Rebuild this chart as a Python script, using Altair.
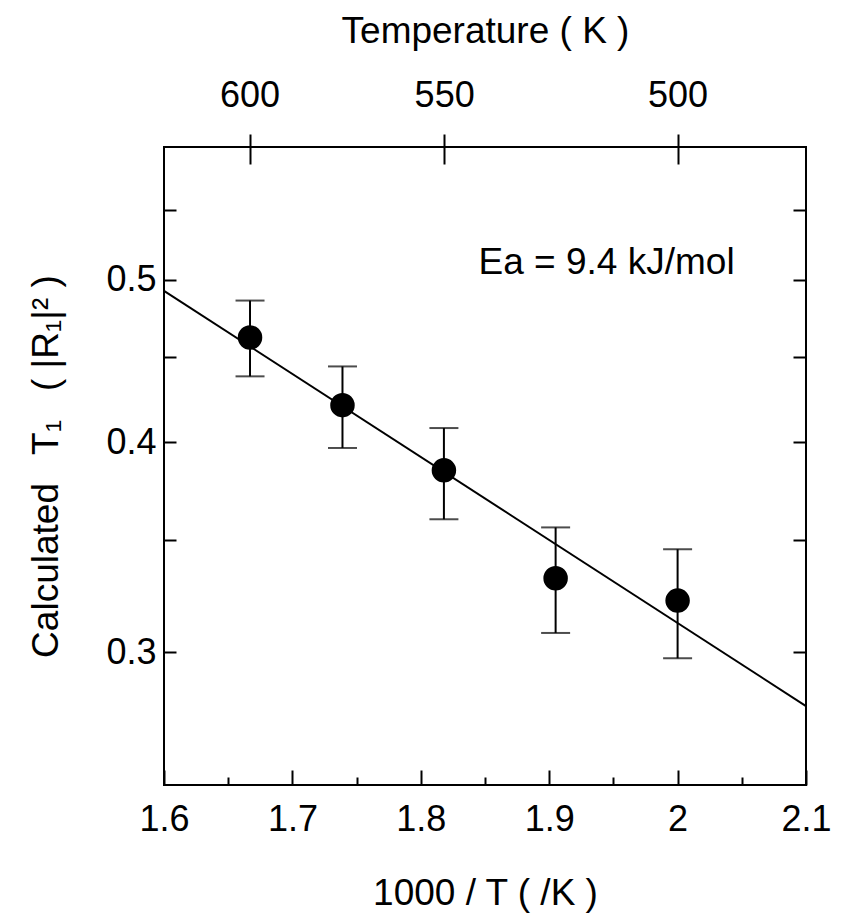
import altair as alt
import pandas as pd

# ---- data ----
inv_T = [1.667, 1.739, 1.818, 1.905, 2.0]          # 1000/T (/K)
t1 = [0.462, 0.421, 0.385, 0.332, 0.322]            # calculated T1
err_hi = [0.486, 0.444, 0.408, 0.356, 0.3455]
err_lo = [0.438, 0.397, 0.360, 0.308, 0.2975]
fit_x = [1.6, 2.1]
fit_y = [0.4925, 0.2786]
bottom_major = [1.6, 1.7, 1.8, 1.9, 2.0, 2.1]
bottom_minor = [1.65, 1.75, 1.85, 1.95, 2.05]
temps = [600, 550, 500]
y_labels = [0.3, 0.4, 0.5]
y_ticks = [0.3, 0.35, 0.4, 0.45, 0.5, 0.55]
ann_text = ["Ea = 9.4 kJ/mol"]
ann_x = [1.845]
ann_y = [0.504]

FONT = "Liberation Sans"
LABEL_FS = 36
TITLE_FS = 37
pts = pd.DataFrame({"x": inv_T, "y": t1, "hi": err_hi, "lo": err_lo})
fit = pd.DataFrame({"x": fit_x, "y": fit_y})
ann = pd.DataFrame({"x": ann_x, "y": ann_y, "t": ann_text})

xs = alt.Scale(domain=[1.6, 2.1], nice=False, zero=False)
ys = alt.Scale(type="log", domain=[0.25, 0.6], nice=False)


def axis_layer(xaxis, yaxis):
    return alt.Chart(pts).mark_point(opacity=0).encode(
        x=alt.X("x:Q", scale=xs, axis=xaxis),
        y=alt.Y("y:Q", scale=ys, axis=yaxis),
    )


common = dict(domain=False, grid=False, tickColor="black", tickWidth=2,
              labelColor="black", labelFont=FONT, titleFont=FONT,
              titleColor="black", titleFontWeight="normal", labelFlush=False,
              labelOverlap=False)

# bottom labels + title
ax_bottom = axis_layer(
    alt.Axis(orient="bottom", values=bottom_major, format=".1~f", ticks=False,
             labelFontSize=LABEL_FS, labelPadding=17, title="1000 / T ( /K )",
             titleFontSize=TITLE_FS, titlePadding=38, **common),
    None)
ax_bottom_major = axis_layer(
    alt.Axis(orient="bottom", values=bottom_major, labels=False, tickSize=15,
             offset=-15, title=None, **common), None)
ax_bottom_minor = axis_layer(
    alt.Axis(orient="bottom", values=bottom_minor, labels=False, tickSize=8,
             offset=-8, title=None, **common), None)
ax_top = axis_layer(
    alt.Axis(orient="top", values=[1000 / t for t in temps],
             labelExpr="format(1000 / datum.value, '.0f')", tickSize=13,
             labelFontSize=LABEL_FS, labelPadding=20, title="Temperature ( K )",
             titleFontSize=TITLE_FS, titlePadding=27, **common), None)
ax_top_in = axis_layer(
    alt.Axis(orient="top", values=[1000 / t for t in temps], labels=False,
             tickSize=17, offset=-17, title=None, **common), None)
ax_left = axis_layer(
    None,
    alt.Axis(orient="left", values=y_labels, format=".1f", ticks=False,
             labelFontSize=LABEL_FS, labelPadding=8,
             title="Calculated\u2002 T\u2081\u2002 ( |R\u2081|\u00b2 )",
             titleFontSize=TITLE_FS, titlePadding=40, **common))
ax_left_in = axis_layer(
    None,
    alt.Axis(orient="left", values=y_ticks, labels=False, tickSize=12,
             offset=-12, title=None, **common))
ax_right_in = axis_layer(
    None,
    alt.Axis(orient="right", values=y_ticks, labels=False, tickSize=13,
             offset=-13, title=None, **common))

line = alt.Chart(fit).mark_line(color="black", strokeWidth=2).encode(
    x=alt.X("x:Q", scale=xs, axis=None),
    y=alt.Y("y:Q", scale=ys, axis=None),
)
bars = alt.Chart(pts).mark_rule(color="black", strokeWidth=2).encode(
    x=alt.X("x:Q", scale=xs, axis=None),
    y=alt.Y("lo:Q", scale=ys, axis=None),
    y2="hi:Q",
)
cap_hi = alt.Chart(pts).mark_tick(color="black", orient="horizontal",
                                  size=29, thickness=2).encode(
    x=alt.X("x:Q", scale=xs, axis=None),
    y=alt.Y("hi:Q", scale=ys, axis=None),
)
cap_lo = alt.Chart(pts).mark_tick(color="black", orient="horizontal",
                                  size=29, thickness=2).encode(
    x=alt.X("x:Q", scale=xs, axis=None),
    y=alt.Y("lo:Q", scale=ys, axis=None),
)
dots = alt.Chart(pts).mark_circle(color="black", opacity=1, size=600).encode(
    x=alt.X("x:Q", scale=xs, axis=None),
    y=alt.Y("y:Q", scale=ys, axis=None),
)
label = alt.Chart(ann).mark_text(align="left", baseline="alphabetic",
                                 font=FONT, fontSize=37, color="black").encode(
    x=alt.X("x:Q", scale=xs, axis=None),
    y=alt.Y("y:Q", scale=ys, axis=None),
    text="t:N",
)

chart = alt.layer(
    ax_bottom, ax_bottom_major, ax_bottom_minor, ax_top, ax_top_in,
    ax_left, ax_left_in, ax_right_in,
    line, bars, cap_hi, cap_lo, dots, label,
).resolve_axis(x="independent", y="independent").properties(
    width=642, height=638,
    autosize=alt.AutoSizeParams(type="none"),
    padding={"left": 156, "top": 139, "right": 28, "bottom": 130},
).configure(
    background="white",
    view=alt.ViewConfig(stroke="black", strokeWidth=2),
)

chart.save("out.html", embed_options={"renderer": "svg", "actions": False})
